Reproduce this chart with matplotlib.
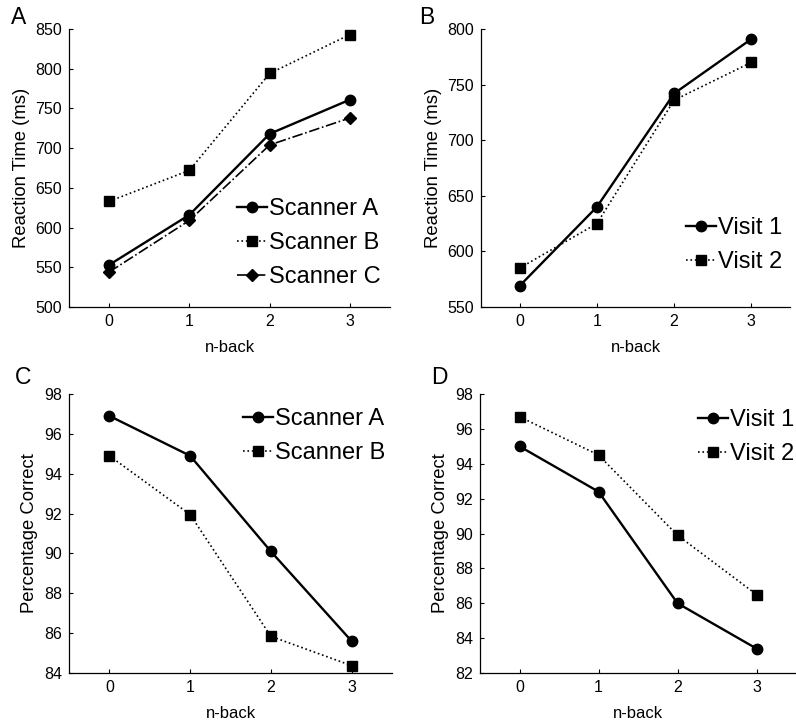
import matplotlib
matplotlib.use('Agg')
import matplotlib.pyplot as plt

plt.rcParams['font.family'] = ['Liberation Sans', 'DejaVu Sans']

nback = [0, 1, 2, 3]

# panel A - reaction time by scanner
rt_scanA = [553, 616, 718, 761]
rt_scanB = [633, 672, 794, 843]
rt_scanC = [544, 609, 704, 738]

# panel B - reaction time by visit
rt_visit1 = [569, 640, 742, 791]
rt_visit2 = [585, 625, 736, 770]

# panel C - percentage correct by scanner
pc_scanA = [96.9, 94.9, 90.1, 85.6]
pc_scanB = [94.9, 91.95, 85.84, 84.37]

# panel D - percentage correct by visit
pc_visit1 = [95.0, 92.4, 86.0, 83.4]
pc_visit2 = [96.7, 94.5, 89.9, 86.5]

W, H = 796, 725
fig = plt.figure(figsize=(W / 100, H / 100), dpi=100)

def px_axes(x0, x1, ytop, ybot):
    return fig.add_axes([x0 / W, 1 - ybot / H, (x1 - x0) / W, (ybot - ytop) / H])

axA = px_axes(69, 390, 29, 307)
axB = px_axes(481, 790, 29, 307)
axC = px_axes(69, 392, 394, 673)
axD = px_axes(480, 796, 394, 673)

solid = dict(color='black', linestyle='-', linewidth=1.7, marker='o', markersize=7.5)
dotted = dict(color='black', linestyle=':', linewidth=1.2, marker='s', markersize=7)
dashdot = dict(color='black', linestyle='-.', linewidth=1.2, marker='D', markersize=6.5)

axA.plot(nback, rt_scanA, label='Scanner A', **solid)
axA.plot(nback, rt_scanB, label='Scanner B', **dotted)
axA.plot(nback, rt_scanC, label='Scanner C', **dashdot)
axA.set_ylim(500, 850)
axA.set_yticks(range(500, 851, 50))
axA.set_ylabel('Reaction Time (ms)')

axB.plot(nback, rt_visit1, label='Visit 1', **solid)
axB.plot(nback, rt_visit2, label='Visit 2', **dotted)
axB.set_ylim(550, 800)
axB.set_yticks(range(550, 801, 50))
axB.set_ylabel('Reaction Time (ms)')

axC.plot(nback, pc_scanA, label='Scanner A', **solid)
axC.plot(nback, pc_scanB, label='Scanner B', **dotted)
axC.set_ylim(84, 98)
axC.set_yticks(range(84, 99, 2))
axC.set_ylabel('Percentage Correct')

axD.plot(nback, pc_visit1, label='Visit 1', **solid)
axD.plot(nback, pc_visit2, label='Visit 2', **dotted)
axD.set_ylim(82, 98)
axD.set_yticks(range(82, 99, 2))
axD.set_ylabel('Percentage Correct')

for ax in (axA, axB, axC, axD):
    ax.set_xlim(-0.5, 3.5)
    ax.set_xticks(nback)
    ax.set_xlabel('n-back', fontsize=12, labelpad=8)
    ax.yaxis.label.set_size(13.3)
    ax.spines['top'].set_visible(False)
    ax.spines['right'].set_visible(False)
    ax.tick_params(labelsize=11.5, direction='in', length=3, width=0.8, pad=5)
    for s in ('left', 'bottom'):
        ax.spines[s].set_linewidth(0.9)
    for m in ax.lines:
        m.set_clip_on(False)

leg_pos = [(axA, 237, 243), (axB, 686, 245), (axC, 243, 436), (axD, 698, 437)]
for ax, lx, ly in leg_pos:
    ax.legend(loc='center left', bbox_to_anchor=(lx / W, 1 - ly / H),
              bbox_transform=fig.transFigure, frameon=False, fontsize=17,
              borderpad=0, borderaxespad=0, handlelength=1.25,
              handletextpad=0.12, labelspacing=0.5)

for letter, x, y in [('A', 11, 17), ('B', 419, 17), ('C', 15, 378), ('D', 431, 378)]:
    fig.text(x / W, 1 - y / H, letter, fontsize=16.5, va='center', ha='left')

fig.savefig('out.png', dpi=100)
